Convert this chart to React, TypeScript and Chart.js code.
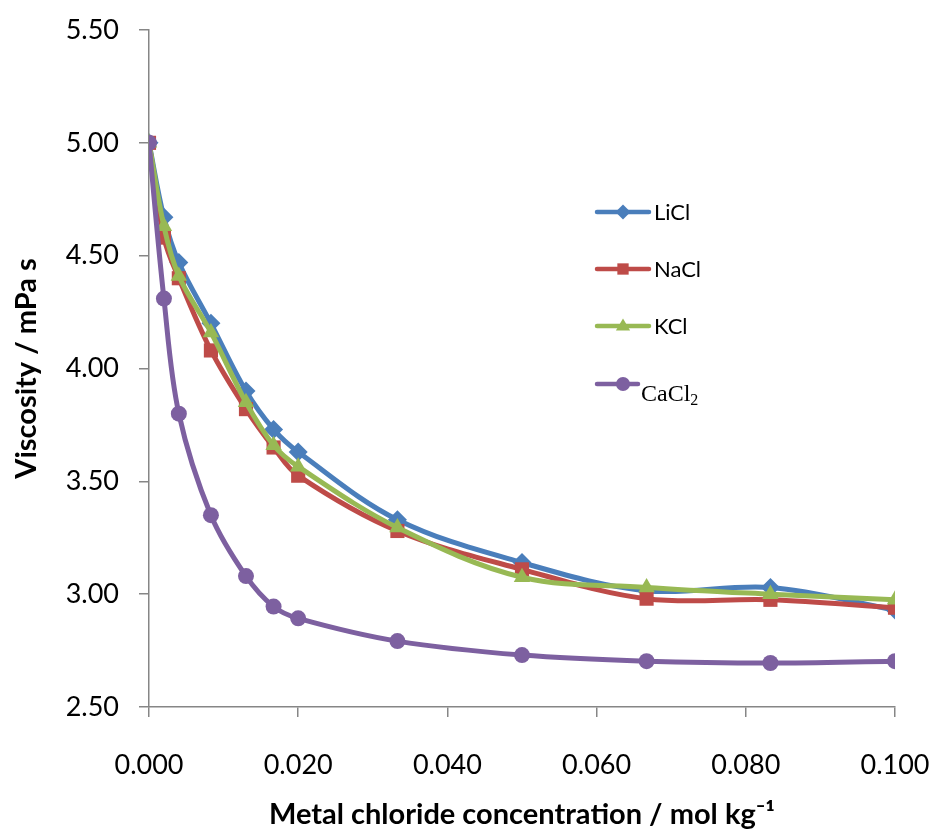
import React, { useEffect, useRef } from "react";
import { Chart, registerables } from "chart.js";

Chart.register(...registerables);

const concentrations = [0, 0.002, 0.004, 0.0083, 0.013, 0.0167, 0.02, 0.0333, 0.05, 0.0667, 0.0833, 0.1];
const liclValues = [5.0, 4.67, 4.47, 4.2, 3.9, 3.73, 3.63, 3.33, 3.14, 3.015, 3.03, 2.93];
const naclValues = [5.0, 4.58, 4.4, 4.08, 3.82, 3.65, 3.525, 3.28, 3.11, 2.98, 2.975, 2.94];
const kclValues = [5.0, 4.63, 4.41, 4.16, 3.85, 3.66, 3.565, 3.295, 3.075, 3.03, 3.0, 2.975];
const cacl2Values = [5.0, 4.31, 3.8, 3.35, 3.08, 2.945, 2.893, 2.792, 2.73, 2.703, 2.695, 2.703];

const seriesNames = ["LiCl", "NaCl", "KCl", "CaCl2"];
const seriesColors = ["#4A7EBB", "#BE4B48", "#98B954", "#7D60A0"];
const seriesMarkers = ["rectRot", "rect", "triangle", "circle"];
const markerRadii = [9.5, 10, 9.5, 8];

const xTicks = [0, 0.02, 0.04, 0.06, 0.08, 0.1];
const yTicks = [2.5, 3.0, 3.5, 4.0, 4.5, 5.0, 5.5];

const allValues = [liclValues, naclValues, kclValues, cacl2Values];

const FONT = "Lato, 'Open Sans', sans-serif";

function drawMarker(ctx: CanvasRenderingContext2D, style: string, x: number, y: number, r: number) {
  ctx.beginPath();
  if (style === "rectRot") {
    ctx.moveTo(x, y - r);
    ctx.lineTo(x + r, y);
    ctx.lineTo(x, y + r);
    ctx.lineTo(x - r, y);
    ctx.closePath();
  } else if (style === "rect") {
    const s = r * Math.SQRT1_2;
    ctx.rect(x - s, y - s, 2 * s, 2 * s);
  } else if (style === "triangle") {
    ctx.moveTo(x, y - r);
    ctx.lineTo(x + r * 0.95, y + r * 0.6);
    ctx.lineTo(x - r * 0.95, y + r * 0.6);
    ctx.closePath();
  } else {
    ctx.arc(x, y, r, 0, Math.PI * 2);
  }
  ctx.fill();
}

const legendPlugin = {
  id: "customLegend",
  afterDraw(chart: any) {
    const ctx = chart.ctx as CanvasRenderingContext2D;
    const ys = [212, 269, 326, 384];
    const legendR = [7.5, 8, 7.5, 7];
    ctx.save();
    seriesNames.forEach((name, i) => {
      const y = ys[i];
      ctx.strokeStyle = seriesColors[i];
      ctx.fillStyle = seriesColors[i];
      ctx.lineWidth = 4.5;
      ctx.lineCap = "round";
      ctx.beginPath();
      ctx.moveTo(597, y);
      ctx.lineTo(name === "CaCl2" ? 638 : 649, y);
      ctx.stroke();
      drawMarker(ctx, seriesMarkers[i], 623, y, legendR[i]);
      ctx.fillStyle = "#000000";
      ctx.textAlign = "left";
      if (name === "CaCl2") {
        ctx.textBaseline = "alphabetic";
        ctx.font = "24px 'Liberation Serif', serif";
        ctx.fillText("CaCl", 641, 401);
        const w = ctx.measureText("CaCl").width;
        ctx.font = "16px 'Liberation Serif', serif";
        ctx.fillText("2", 641 + w, 405);
      } else {
        ctx.textBaseline = "middle";
        ctx.font = "22px " + FONT;
        ctx.fillText(name, 654, y + 1);
      }
    });
    ctx.restore();
  },
};

export default function App() {
  const canvasRef = useRef<HTMLCanvasElement | null>(null);

  useEffect(() => {
    if (!canvasRef.current) return;
    const datasets = seriesNames.map((name, i) => ({
      label: name,
      data: concentrations.map((c, j) => ({ x: c, y: allValues[i][j] })),
      borderColor: seriesColors[i],
      backgroundColor: seriesColors[i],
      pointBackgroundColor: seriesColors[i],
      pointBorderColor: seriesColors[i],
      pointStyle: seriesMarkers[i],
      pointRadius: markerRadii[i],
      pointBorderWidth: 0,
      borderWidth: 5,
      tension: 0.35,
      order: 3 - i,
      fill: false,
    }));

    const chart = new Chart(canvasRef.current, {
      type: "line",
      data: { datasets },
      plugins: [legendPlugin],
      options: {
        animation: false,
        responsive: false,
        maintainAspectRatio: false,
        layout: { padding: { left: 0, top: 30, right: 40, bottom: 0 } },
        plugins: {
          legend: { display: false },
          tooltip: { enabled: false },
        },
        scales: {
          x: {
            type: "linear",
            min: 0,
            max: 0.1,
            afterFit(scale: any) {
              scale.height = 125;
              scale.paddingLeft = 0;
              scale.paddingRight = 0;
            },
            afterBuildTicks(scale: any) {
              scale.ticks = xTicks.map((v) => ({ value: v }));
            },
            grid: {
              display: true,
              drawOnChartArea: false,
              drawTicks: true,
              tickLength: 10,
              color: "#868686",
              lineWidth: 1.5,
            },
            border: { display: true, color: "#868686", width: 1.5 },
            ticks: {
              padding: 32,
              color: "#000000",
              font: { family: FONT, size: 27 },
              maxRotation: 0,
              callback: (v: any) => Number(v).toFixed(3),
            },
            title: {
              display: true,
              text: "Metal chloride concentration / mol kg⁻¹",
              color: "#000000",
              font: { family: FONT, size: 29, weight: "bold" },
              padding: { top: 0, bottom: 0 },
            },
          },
          y: {
            type: "linear",
            min: 2.5,
            max: 5.5,
            afterFit(scale: any) {
              scale.width = 149;
              scale.paddingTop = 0;
              scale.paddingBottom = 0;
            },
            afterBuildTicks(scale: any) {
              scale.ticks = yTicks.map((v) => ({ value: v }));
            },
            grid: {
              display: true,
              drawOnChartArea: false,
              drawTicks: true,
              tickLength: 10,
              color: "#868686",
              lineWidth: 1.5,
            },
            border: { display: true, color: "#868686", width: 1.5 },
            ticks: {
              padding: 20,
              color: "#000000",
              font: { family: FONT, size: 27 },
              callback: (v: any) => Number(v).toFixed(2),
            },
            title: {
              display: true,
              text: "Viscosity / mPa s",
              color: "#000000",
              font: { family: FONT, size: 29, weight: "bold" },
              padding: { top: 9, bottom: 0 },
            },
          },
        },
      },
    });
    return () => chart.destroy();
  }, []);

  return (
    <div style={{ position: "fixed", left: 0, top: 0, width: 935, height: 832, background: "#ffffff" }}>
      <canvas ref={canvasRef} width={935} height={832} style={{ width: 935, height: 832 }} />
    </div>
  );
}
